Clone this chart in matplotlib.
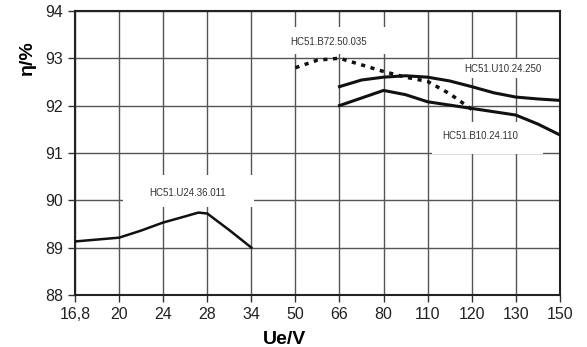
import matplotlib.pyplot as plt
from matplotlib.patches import Rectangle

plt.rcParams['font.family'] = ['Liberation Sans', 'DejaVu Sans']

cats = ['16,8', '20', '24', '28', '34', '50', '66', '80', '110', '120', '130', '150']

# readings, x given as position along the category axis (ticks at 0..11)
u24_x = [0, 0.5, 1, 1.5, 2, 2.5, 2.8, 3, 3.5, 4]
u24_y = [89.13, 89.17, 89.21, 89.36, 89.53, 89.66, 89.74, 89.72, 89.37, 89.0]

b72_x = [5, 5.5, 6, 6.5, 7, 7.5, 8, 8.5, 9]
b72_y = [92.80, 92.96, 93.0, 92.86, 92.72, 92.60, 92.51, 92.25, 91.92]

u10_x = [6, 6.5, 7, 7.5, 8, 8.5, 9, 9.5, 10, 10.5, 11]
u10_y = [92.40, 92.54, 92.60, 92.63, 92.60, 92.52, 92.40, 92.27, 92.18, 92.14, 92.11]

b10_x = [6, 6.5, 7, 7.5, 8, 8.5, 9, 9.5, 10, 10.5, 11]
b10_y = [92.0, 92.16, 92.32, 92.23, 92.08, 92.01, 91.94, 91.87, 91.80, 91.61, 91.38]

fig = plt.figure(figsize=(5.87, 3.47), dpi=100)
ax = fig.add_axes([0.1278, 0.150, 0.826, 0.8186])

ax.set_xlim(0, 11)
ax.set_ylim(88, 94)
ax.set_xticks(range(len(cats)))
ax.set_xticklabels(cats)
ax.set_yticks(range(88, 95))
ax.tick_params(labelsize=11.5, labelcolor='#222222', length=5, width=1, color='#333333')
ax.set_axisbelow(True)
ax.grid(True, color='#555555', linewidth=1)
for s in ax.spines.values():
    s.set_linewidth(1.5)
    s.set_color('#222222')

# white label boxes that hide the grid
boxes = [(1.09, 89.86, 2.96, 0.68), (4.55, 93.09, 2.84, 0.57),
         (8.8, 92.58, 2.13, 0.40), (8.11, 90.98, 2.50, 0.67)]
for bx, by, bw, bh in boxes:
    ax.add_patch(Rectangle((bx, by), bw, bh, facecolor='white', edgecolor='none', zorder=1))

ax.plot(u24_x, u24_y, color='#111111', lw=1.8, zorder=3)
ax.plot(u10_x, u10_y, color='#111111', lw=2.2, zorder=3)
ax.plot(b10_x, b10_y, color='#111111', lw=2.2, zorder=3)
ax.plot(b72_x, b72_y, color='#111111', lw=2.5, linestyle=(0, (1.2, 1.6)), zorder=3)

lab = dict(fontsize=7, color='#333333', ha='center', va='center', zorder=4)
ax.text(2.55, 90.15, 'HC51.U24.36.011', **lab)
ax.text(5.75, 93.34, 'HC51.B72.50.035', **lab)
ax.text(9.7, 92.77, 'HC51.U10.24.250', **lab)
ax.text(9.2, 91.35, 'HC51.B10.24.110', **lab)

fig.text(27 / 587, 1 - 58 / 347, 'η/%', rotation=90, ha='center', va='center',
         fontsize=14, fontweight='bold')
fig.text(285 / 587, 1 - 339 / 347, 'Ue/V', ha='center', va='center',
         fontsize=14, fontweight='bold')

fig.savefig('out.png', dpi=100)
